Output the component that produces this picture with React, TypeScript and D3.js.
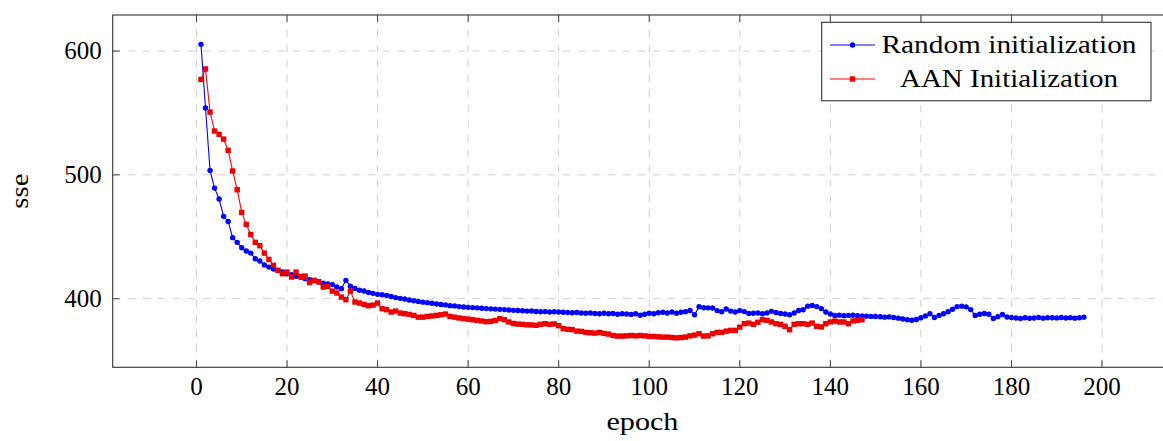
import React from 'react'
import * as d3 from 'd3'

// sse per epoch (epoch = index + 1)
const randomInit = [
  605.4, 554, 503.6, 489.3, 480.5, 466.5, 462.4, 449.3, 445.5, 441.2,
  438.5, 436.8, 432.3, 430.4, 427.2, 425.5, 423.9, 422.9, 421.5, 420.2,
  419.3, 418.1, 417.3, 416.2, 415.3, 414.5, 413.4, 412.6, 412.0, 411.4,
  409.5, 408.1, 414.8, 410.0, 408.3, 406.8, 406.2, 405.0, 404.3, 403.5,
  403.2, 402.7, 401.8, 400.9, 400.3, 399.7, 399.0, 398.4, 397.8, 397.2,
  396.8, 396.3, 395.7, 395.3, 395.0, 394.4, 394.2, 393.6, 393.3, 393.0,
  392.8, 392.6, 392.3, 392.0, 391.8, 391.6, 391.4, 391.2, 390.9, 390.6,
  390.5, 390.3, 390.0, 390.1, 389.7, 389.5, 389.6, 389.3, 389.5, 389.2,
  389.0, 388.9, 388.6, 388.8, 388.4, 388.2, 388.5, 388.0, 387.9, 388.2,
  387.8, 388.0, 387.5, 387.9, 387.6, 387.3, 387.8, 386.6, 387.5, 388.2,
  387.9, 388.7, 389.0, 388.5, 389.2, 388.3, 389.0, 389.4, 390.5, 387.0,
  393.5, 392.7, 392.6, 392.5, 390.4, 389.5, 391.7, 390.0, 389.2, 390.4,
  389.6, 388.0, 388.2, 388.4, 387.8, 388.5, 389.8, 388.8, 388.0, 387.7,
  387.0, 388.5, 390.5, 391.1, 394.0, 394.5, 393.6, 392.0, 389.2, 387.6,
  386.5, 386.7, 386.3, 386.5, 386.6, 386.2, 386.0, 385.9, 385.7, 385.6,
  385.4, 385.1, 385.3, 384.8, 384.3, 383.6, 383.0, 382.6, 383.2, 384.6,
  386.0, 387.9, 384.8, 386.5, 387.9, 389.5, 391.5, 393.6, 394.0, 393.4,
  391.2, 386.5, 387.4, 388.0, 387.5, 384.0, 385.5, 387.2, 385.2, 384.8,
  384.4, 384.0, 384.6, 384.2, 384.4, 384.8, 384.3, 384.7, 384.6, 384.5,
  384.8, 384.4, 384.7, 384.3, 384.6, 385.1
]

const aanInit = [
  577.1, 585.5, 550.7, 535.4, 532.7, 528.9, 519.8, 503.1, 488.0, 469.7,
  460.0, 451.9, 445.5, 442.8, 436.8, 431.7, 426.9, 422.9, 420.2, 421.5,
  417.5, 421.5, 418.0, 418.3, 413.0, 414.8, 413.7, 409.4, 410.0, 406.1,
  404.6, 401.3, 399.2, 406.1, 397.3, 396.5, 395.4, 394.3, 394.8, 396.5,
  391.9, 391.1, 389.2, 390.0, 388.4, 387.9, 387.3, 386.5, 385.1, 385.1,
  385.7, 386.0, 386.5, 387.0, 387.6, 385.7, 385.1, 384.4, 383.9, 383.5,
  383.0, 382.5, 382.0, 381.4, 381.7, 382.4, 383.9, 383.0, 381.2, 380.0,
  379.5, 379.3, 378.9, 378.8, 378.5, 379.3, 379.8, 379.3, 379.6, 378.2,
  375.8, 375.3, 375.0, 373.8, 373.6, 372.8, 372.5, 372.2, 372.8, 372.0,
  371.4, 370.3, 369.8, 369.8, 370.0, 370.3, 370.0, 370.3, 370.0, 369.5,
  369.5, 369.2, 369.0, 369.0, 368.7, 368.4, 368.6, 369.0, 370.0, 370.6,
  371.7, 369.8, 370.0, 371.7, 372.8, 372.8, 373.8, 374.4, 374.4, 377.0,
  379.8, 380.3, 379.3, 381.0, 383.0, 382.5, 381.2, 379.8, 379.3, 377.7,
  375.0, 379.3, 379.8, 379.8, 379.3, 380.3, 377.7, 377.2, 379.8, 381.2,
  381.9, 381.2, 381.2, 379.8, 382.0, 382.5, 383.0
]

const seriesNames = ['Random initialization', 'AAN Initialization']
const xTicks = [0, 20, 40, 60, 80, 100, 120, 140, 160, 180, 200]
const yTicks = [400, 500, 600]

const W = 1163
const H = 441
const left = 112.7
const right = 1172.2
const top = 15
const bottom = 367.3
const font = '"Liberation Serif", "Times New Roman", serif'

const x = d3.scaleLinear().domain([-18.5, 215.5]).range([left, right])
const y = d3.scaleLinear().domain([344.6, 629.1]).range([bottom, top])

type Pt = { e: number; v: number }
const toPts = (arr: number[]): Pt[] => arr.map((v, i) => ({ e: i + 1, v }))

const line = d3.line<Pt>().x(d => x(d.e)).y(d => y(d.v))

export default function App() {
  const blue = toPts(randomInit)
  const red = toPts(aanInit)
  const sq = 5.4
  const txt = { fontFamily: font, fontSize: 25 }

  return (
    <div style={{ position: 'absolute', left: 0, top: 0 }}>
      <svg width={W} height={H} style={{ display: 'block' }}>
        {/* grid */}
        <g stroke='#cfcfcf' strokeWidth={1} strokeDasharray='7.5 7.5'>
          {xTicks.map(t => (
            <line key={'gx' + t} x1={x(t)} x2={x(t)} y1={bottom} y2={top} />
          ))}
          {yTicks.map(t => (
            <line key={'gy' + t} x1={left} x2={right} y1={y(t)} y2={y(t)} />
          ))}
        </g>

        {/* ticks */}
        <g stroke='#444' strokeWidth={1}>
          {xTicks.map(t => (
            <g key={'tx' + t}>
              <line x1={x(t)} x2={x(t)} y1={bottom} y2={bottom - 7} />
              <line x1={x(t)} x2={x(t)} y1={top} y2={top + 7} />
            </g>
          ))}
          {yTicks.map(t => (
            <g key={'ty' + t}>
              <line x1={left} x2={left + 7} y1={y(t)} y2={y(t)} />
              <line x1={right} x2={right - 7} y1={y(t)} y2={y(t)} />
            </g>
          ))}
        </g>

        {/* series */}
        <path d={line(blue) || ''} fill='none' stroke='#0000ff' strokeWidth={1.1} />
        {blue.map(d => (
          <circle key={'b' + d.e} cx={x(d.e)} cy={y(d.v)} r={2.7} fill='#0000ff' />
        ))}
        <path d={line(red) || ''} fill='none' stroke='#ff0000' strokeWidth={1.1} />
        {red.map(d => (
          <rect key={'r' + d.e} x={x(d.e) - sq / 2} y={y(d.v) - sq / 2} width={sq} height={sq} fill='#ee0000' />
        ))}

        {/* frame */}
        <rect x={left} y={top} width={right - left} height={bottom - top} fill='none' stroke='#333' strokeWidth={1.1} />

        {/* tick labels */}
        <g style={txt} fill='#000'>
          {xTicks.map(t => (
            <text key={'lx' + t} x={x(t)} y={395} textAnchor='middle'>{t}</text>
          ))}
          {yTicks.map(t => (
            <text key={'ly' + t} x={101.7} y={y(t) + 8.4} textAnchor='end'>{t}</text>
          ))}
        </g>

        {/* axis labels */}
        <text style={txt} x={(left + right) / 2} y={430} textAnchor='middle' textLength={72} lengthAdjust='spacingAndGlyphs'>epoch</text>
        <text style={txt} transform={`translate(28,${(top + bottom) / 2}) rotate(-90)`} textAnchor='middle' textLength={35} lengthAdjust='spacingAndGlyphs'>sse</text>

        {/* legend */}
        <g>
          <rect x={821.7} y={22.3} width={1151 - 821.7} height={78.5} fill='#fff' stroke='#333' strokeWidth={1.1} />
          <line x1={830} x2={875} y1={45} y2={45} stroke='#0000ff' strokeWidth={1.1} />
          <circle cx={852.5} cy={45} r={2.7} fill='#0000ff' />
          <text style={txt} x={1009} y={53.3} textAnchor='middle' textLength={255} lengthAdjust='spacingAndGlyphs'>{seriesNames[0]}</text>
          <line x1={830} x2={875} y1={79} y2={79} stroke='#ff0000' strokeWidth={1.1} />
          <rect x={852.5 - sq / 2} y={79 - sq / 2} width={sq} height={sq} fill='#ee0000' />
          <text style={txt} x={1009} y={87.3} textAnchor='middle' textLength={218} lengthAdjust='spacingAndGlyphs'>{seriesNames[1]}</text>
        </g>
      </svg>
    </div>
  )
}
